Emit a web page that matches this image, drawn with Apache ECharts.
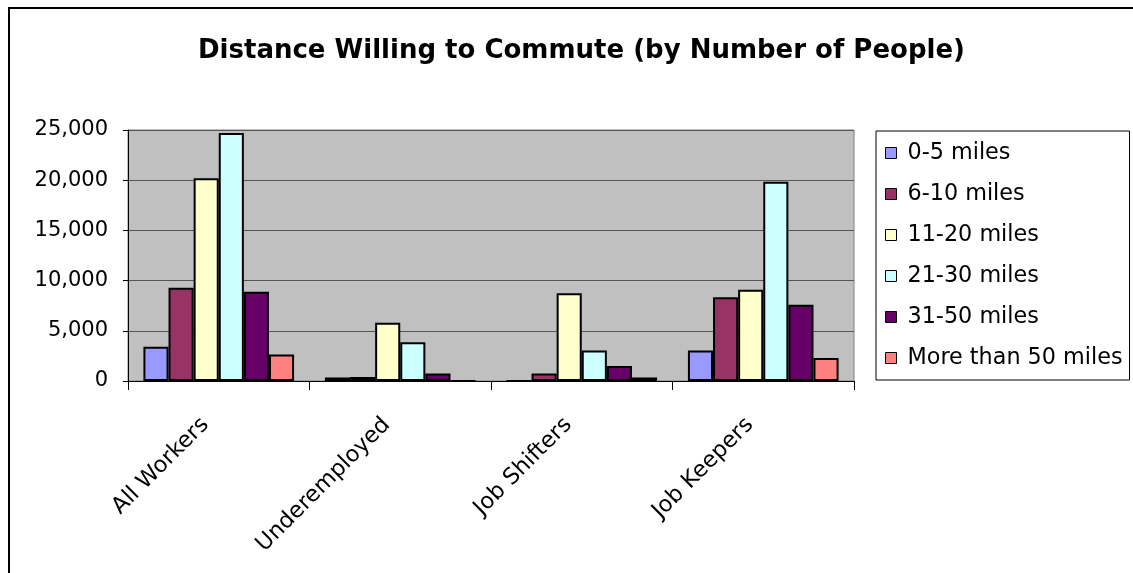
<!DOCTYPE html>
<html>
<head>
<meta charset="utf-8">
<script src="https://cdn.jsdelivr.net/npm/echarts@6/dist/echarts.min.js"></script>
<style>
html,body{margin:0;padding:0;background:#fff;}
#frame{position:absolute;left:8px;top:7px;width:1140px;height:600px;border:2px solid #000;box-sizing:border-box;}
#chart{position:absolute;left:0;top:0;width:1133px;height:573px;}
</style>
</head>
<body>
<div id="frame"></div>
<div id="chart"></div>
<script>
const categories = ['All Workers', 'Underemployed', 'Job Shifters', 'Job Keepers'];
const seriesNames = ['0-5 miles', '6-10 miles', '11-20 miles', '21-30 miles', '31-50 miles', 'More than 50 miles'];
const miles0to5 = [3400, 350, 0, 3050];
const miles6to10 = [9300, 400, 750, 8350];
const miles11to20 = [20200, 5800, 8750, 9100];
const miles21to30 = [24700, 3850, 3050, 19850];
const miles31to50 = [8900, 750, 1500, 7600];
const milesOver50 = [2650, 0, 350, 2300];
const yTicks = [0, 5000, 10000, 15000, 20000, 25000];

const colors = ['#9999FF', '#993366', '#FFFFCC', '#CCFFFF', '#660066', '#FF8080'];
const allData = [miles0to5, miles6to10, miles11to20, miles21to30, miles31to50, milesOver50];
const font = 'DejaVu Sans';

const chart = echarts.init(document.getElementById('chart'), null, {renderer: 'canvas'});
chart.setOption({
  backgroundColor: 'transparent',
  animation: false,
  title: {
    text: 'Distance Willing to Commute (by Number of People)',
    left: 193,
    top: 33,
    textStyle: {fontFamily: font, fontWeight: 'bold', fontSize: 26, color: '#000'}
  },
  legend: {
    orient: 'vertical',
    left: 876,
    top: 131,
    padding: [11, 7, 11, 9],
    itemWidth: 11,
    itemHeight: 11,
    itemGap: 19,
    borderColor: '#000',
    borderWidth: 1,
    backgroundColor: '#fff',
    icon: 'rect',
    textStyle: {fontFamily: font, fontSize: 22.3, color: '#000', lineHeight: 22, padding: [0, 0, 0, 6]},
    itemStyle: {borderColor: '#000', borderWidth: 1},
    data: seriesNames
  },
  grid: {
    left: 128, right: 279, top: 130, bottom: 192,
    show: true, backgroundColor: '#C0C0C0', borderColor: '#808080', borderWidth: 1
  },
  xAxis: {
    type: 'category',
    data: categories,
    axisLine: {lineStyle: {color: '#000', width: 1}},
    axisTick: {show: true, length: 9, lineStyle: {color: '#000'}},
    axisLabel: {rotate: 45, margin: 27, fontFamily: font, fontSize: 22.5, color: '#000', padding: [0, 19, 0, 0]}
  },
  yAxis: {
    type: 'value',
    min: yTicks[0],
    max: yTicks[yTicks.length - 1],
    interval: yTicks[1] - yTicks[0],
    axisLine: {show: true, lineStyle: {color: '#000', width: 1}},
    axisTick: {show: true, length: 5, lineStyle: {color: '#000'}},
    axisLabel: {margin: 20, fontFamily: font, fontSize: 21, color: '#000',
      formatter: v => v.toLocaleString('en-US')},
    splitLine: {lineStyle: {color: '#555', width: 1}}
  },
  series: seriesNames.map((name, i) => ({
    name: name,
    type: 'bar',
    data: allData[i],
    barGap: '0%',
    barCategoryGap: '17%',
    itemStyle: {color: colors[i], borderColor: '#000', borderWidth: 2}
  }))
});
</script>
</body>
</html>
